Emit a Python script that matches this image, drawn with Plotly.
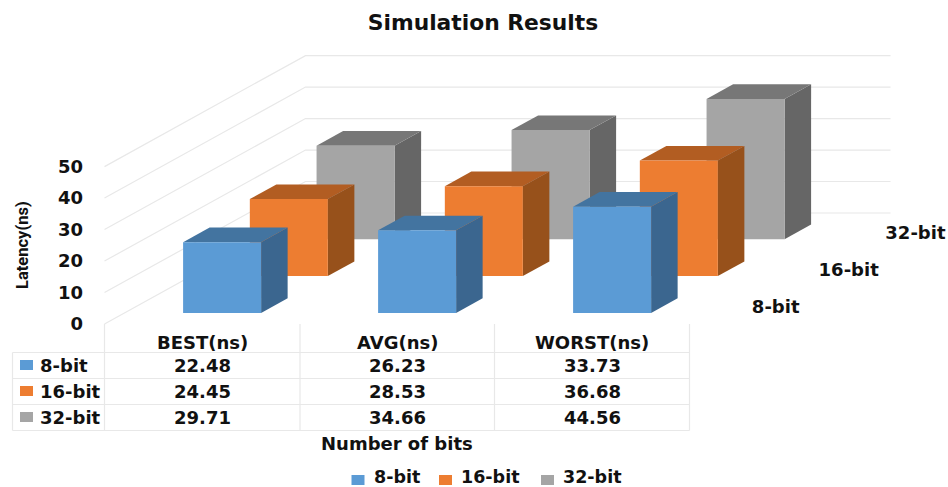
import plotly.graph_objects as go

# ---- data ----
categories = ["BEST(ns)", "AVG(ns)", "WORST(ns)"]
series_names = ["8-bit", "16-bit", "32-bit"]
values_8bit = [22.48, 26.23, 33.73]
values_16bit = [24.45, 28.53, 36.68]
values_32bit = [29.71, 34.66, 44.56]
y_ticks = [0, 10, 20, 30, 40, 50]
title_text = "Simulation Results"
y_title = "Latency(ns)"
x_title = "Number of bits"

series_values = [values_8bit, values_16bit, values_32bit]
front_colors = ["#5B9BD5", "#ED7D31", "#A5A5A5"]
top_colors = ["#4374A0", "#B25D22", "#777777"]
side_colors = ["#3B668F", "#97511B", "#666666"]

# ---- figure geometry ----
W, H = 948, 487
X0_PX, CAT_PX = 202.0, 195.0      # category centre (front wall), px per category
Y0_PX, NS_PX = 324.0, 3.148       # 0 ns (front wall), px per ns
DX_PX, DY_PX = 201.0, 111.0       # oblique shift of the whole depth
BAR_W = 0.2                       # half-width, in category units
D_FIRST, D_STEP, D_BAR = 0.1, 0.332, 0.132
GRID = "#E8E8E8"
FONT = "DejaVu Sans"
TEXT = "#111111"


def project(c, d, v):
    """Oblique projection of (category, depth, ns) onto the 2-D axes."""
    return c + d * DX_PX / CAT_PX, v + d * DY_PX / NS_PX


def poly(points, color, name=None):
    pts = [project(*p) for p in points]
    xs = [p[0] for p in pts] + [pts[0][0]]
    ys = [p[1] for p in pts] + [pts[0][1]]
    return go.Scatter(x=xs, y=ys, mode="lines", fill="toself", fillcolor=color,
                      line=dict(width=0, color=color), hoverinfo="skip",
                      showlegend=False, name=name)


def grid_line(points):
    pts = [project(*p) for p in points]
    return go.Scatter(x=[p[0] for p in pts], y=[p[1] for p in pts], mode="lines",
                      line=dict(color=GRID, width=1.2), hoverinfo="skip", showlegend=False)


def px_x(px):
    return px / W


def px_y(px):
    return 1 - px / H


fig = go.Figure()

# walls
left_c, right_c = -0.5, len(categories) - 0.5
for t in y_ticks:
    fig.add_trace(grid_line([(left_c, 0, t), (left_c, 1, t), (right_c, 1, t)]))

# bars: back series first
for s in reversed(range(len(series_names))):
    d0 = D_FIRST + D_STEP * s
    d1 = d0 + D_BAR
    for c, v in enumerate(series_values[s]):
        l, r = c - BAR_W, c + BAR_W
        fig.add_trace(poly([(r, d0, 0), (r, d1, 0), (r, d1, v), (r, d0, v)], side_colors[s]))
        fig.add_trace(poly([(l, d0, v), (r, d0, v), (r, d1, v), (l, d1, v)], top_colors[s]))
        fig.add_trace(poly([(l, d0, 0), (r, d0, 0), (r, d0, v), (l, d0, v)], front_colors[s]))

# depth-axis labels
for s, name in enumerate(series_names):
    d = D_FIRST + D_STEP * s + D_BAR / 2
    x, y = project(right_c + 29 / CAT_PX, d, -3 / NS_PX)
    fig.add_trace(go.Scatter(x=[x], y=[y], mode="text", text=[name], textposition="middle right",
                             textfont=dict(family=FONT, size=18, color=TEXT, weight="bold"),
                             hoverinfo="skip", showlegend=False))

# data table
TABLE_ROWS = [352.5, 378.5, 404.5, 430.5]
TABLE_COLS = [104.5, 300, 494.5, 689.5]
TABLE_LEFT = 12.5
TABLE_TOP = 324
shapes = []
for y in TABLE_ROWS:
    shapes.append(dict(type="line", xref="paper", yref="paper", x0=px_x(TABLE_LEFT), x1=px_x(TABLE_COLS[-1]),
                       y0=px_y(y), y1=px_y(y), line=dict(color=GRID, width=1.2), layer="below"))
for x in TABLE_COLS:
    shapes.append(dict(type="line", xref="paper", yref="paper", x0=px_x(x), x1=px_x(x),
                       y0=px_y(TABLE_TOP), y1=px_y(TABLE_ROWS[-1]), line=dict(color=GRID, width=1.2), layer="below"))
shapes.append(dict(type="line", xref="paper", yref="paper", x0=px_x(TABLE_LEFT), x1=px_x(TABLE_LEFT),
                   y0=px_y(TABLE_ROWS[0]), y1=px_y(TABLE_ROWS[-1]), line=dict(color=GRID, width=1.2), layer="below"))

annotations = []


def label(text, x, y, size=18, anchor="center", **kw):
    annotations.append(dict(text=f"<b>{text}</b>", xref="paper", yref="paper", x=px_x(x), y=px_y(y),
                            xanchor=anchor, yanchor="middle", showarrow=False,
                            font=kw.pop("font", dict(family=FONT, size=size, color=TEXT)), **kw))


def swatch(x, y, width, height, color):
    shapes.append(dict(type="rect", xref="paper", yref="paper", x0=px_x(x), x1=px_x(x + width),
                       y0=px_y(y - height / 2), y1=px_y(y + height / 2), fillcolor=color, line_width=0))


for c, cat in enumerate(categories):
    label(cat, X0_PX + CAT_PX * c, 342)
for s, name in enumerate(series_names):
    yc = 365 + 26 * s
    swatch(20, yc, 13, 10, front_colors[s])
    label(name, 38, yc, anchor="left")
    for c, v in enumerate(series_values[s]):
        label(f"{v:.2f}", X0_PX + CAT_PX * c, yc)

# legend row
LEGEND_X = [351.5, 439, 541]
for s, name in enumerate(series_names):
    swatch(LEGEND_X[s], 480, 13, 10, front_colors[s])
    label(name, LEGEND_X[s] + 20, 476.5, size=17.5, anchor="left")

label(x_title, 397, 443)
label(y_title, 23, 245, textangle=-90, font=dict(family="Roboto", size=16.5, color=TEXT))

fig.update_layout(
    width=W, height=H, autosize=False, showlegend=False,
    margin=dict(l=0, r=0, t=0, b=0),
    paper_bgcolor="white", plot_bgcolor="white",
    title=dict(text=f"<b>{title_text}</b>", x=483 / W, xanchor="center", y=1 - 22 / H, yanchor="middle",
               font=dict(family=FONT, size=21.8, color=TEXT)),
    xaxis=dict(range=[-X0_PX / CAT_PX, (W - X0_PX) / CAT_PX], visible=False, fixedrange=True),
    yaxis=dict(range=[(Y0_PX - H) / NS_PX, Y0_PX / NS_PX], anchor="free", position=83 / W,
               tickvals=y_ticks, ticktext=[str(t) for t in y_ticks], showgrid=False, zeroline=False,
               showline=False, ticks="", fixedrange=True,
               tickfont=dict(family=FONT, size=18, color=TEXT, weight="bold")),
    shapes=shapes, annotations=annotations,
)

fig.write_html("out.html", config={"displayModeBar": False},
               post_script="document.body.style.margin='0';")
